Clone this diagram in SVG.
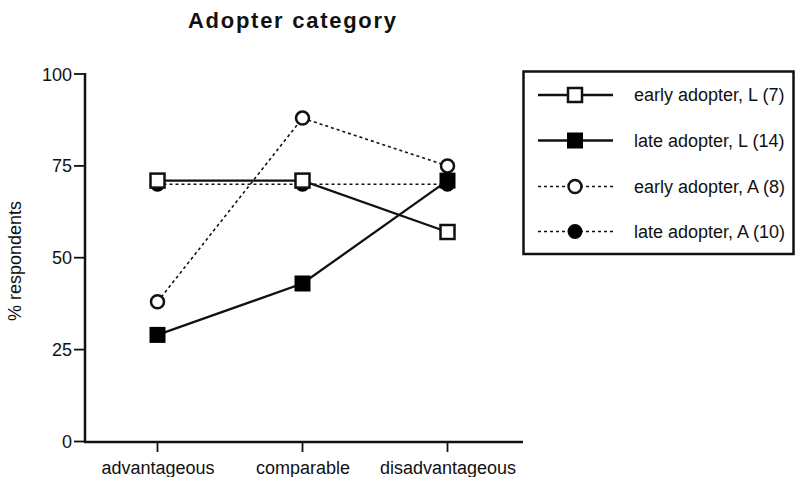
<svg xmlns="http://www.w3.org/2000/svg" width="798" height="477" viewBox="0 0 798 477">
<style>
text{font-family:"Liberation Sans",Arial,sans-serif;fill:#111}
.lab{font-size:18px}
.axis{stroke:#111;stroke-width:2.5;fill:none}
.tick{stroke:#111;stroke-width:1.8}
.solid{stroke:#111;stroke-width:2.3;fill:none}
.dot{stroke:#111;stroke-width:1.6;stroke-dasharray:3 3;fill:none}
.osq{fill:#fff;stroke:#111;stroke-width:2.5}
.fsq{fill:#000;stroke:#000;stroke-width:2}
.oci{fill:#fff;stroke:#111;stroke-width:2.5}
.fci{fill:#000;stroke:#000;stroke-width:2}
</style>
<defs>
<rect id="sq" x="-7" y="-7" width="14" height="14"/>
</defs>
<rect width="798" height="477" fill="#fff"/>
<text x="188" y="27.5" font-size="22" font-weight="bold" textLength="208" lengthAdjust="spacing">Adopter category</text>
<g id="axes">
<line class="axis" x1="85" y1="73" x2="85" y2="443"/>
<line class="axis" x1="84" y1="442" x2="523" y2="442"/>
<line class="tick" x1="74" y1="74" x2="85" y2="74"/>
<line class="tick" x1="74" y1="165.9" x2="85" y2="165.9"/>
<line class="tick" x1="74" y1="257.7" x2="85" y2="257.7"/>
<line class="tick" x1="74" y1="349.6" x2="85" y2="349.6"/>
<line class="tick" x1="74" y1="441.5" x2="85" y2="441.5"/>
<line class="tick" x1="157.5" y1="442" x2="157.5" y2="452"/>
<line class="tick" x1="302.5" y1="442" x2="302.5" y2="452"/>
<line class="tick" x1="447.5" y1="442" x2="447.5" y2="452"/>
<g text-anchor="end">
<text x="72" y="80.5" class="lab">100</text>
<text x="72" y="172.4" class="lab">75</text>
<text x="72" y="264.2" class="lab">50</text>
<text x="72" y="356.1" class="lab">25</text>
<text x="72" y="448" class="lab">0</text>
</g>
<text class="lab" text-anchor="middle" x="158" y="474">advantageous</text>
<text class="lab" text-anchor="middle" x="303" y="474">comparable</text>
<text class="lab" text-anchor="middle" x="448" y="474">disadvantageous</text>
<text class="lab" text-anchor="middle" transform="translate(21 261) rotate(-90)">% respondents</text>
</g>
<g id="connectors">
<polyline class="dot" points="157.5,184.3 302.5,184.3 447.5,184.3"/>
<polyline class="dot" points="157.5,301.8 302.5,118.1 447.5,165.9"/>
<polyline class="solid" points="157.5,180.6 302.5,180.6 447.5,232"/>
<polyline class="solid" points="157.5,334.9 302.5,283.5 447.5,180.6"/>
</g>
<g id="late-adopter-A">
<circle class="fci" cx="157.5" cy="184.3" r="6.5"/>
<circle class="fci" cx="302.5" cy="184.3" r="6.5"/>
<circle class="fci" cx="447.5" cy="184.3" r="6.5"/>
</g>
<g id="early-adopter-A">
<circle class="oci" cx="157.5" cy="301.8" r="6.5"/>
<circle class="oci" cx="302.5" cy="118.1" r="6.5"/>
<circle class="oci" cx="447.5" cy="165.9" r="6.5"/>
</g>
<g id="early-adopter-L">
<use href="#sq" class="osq" x="157.5" y="180.6"/>
<use href="#sq" class="osq" x="302.5" y="180.6"/>
<use href="#sq" class="osq" x="447.5" y="232"/>
</g>
<g id="late-adopter-L">
<use href="#sq" class="fsq" x="157.5" y="334.9"/>
<use href="#sq" class="fsq" x="302.5" y="283.5"/>
<use href="#sq" class="fsq" x="447.5" y="180.6"/>
</g>
<g id="legend">
<rect x="523.5" y="71.5" width="270" height="182.5" fill="#fff" stroke="#111" stroke-width="2.5"/>
<line class="solid" x1="538" y1="95" x2="613" y2="95"/>
<use href="#sq" class="osq" x="575" y="95"/>
<text class="lab" x="634" y="101">early adopter, L (7)</text>
<line class="solid" x1="538" y1="140.5" x2="613" y2="140.5"/>
<use href="#sq" class="fsq" x="575" y="140.5"/>
<text class="lab" x="634" y="146.5">late adopter, L (14)</text>
<line class="dot" x1="538" y1="186.5" x2="613" y2="186.5"/>
<circle class="oci" cx="575" cy="186.5" r="6.5"/>
<text class="lab" x="634" y="192.5">early adopter, A (8)</text>
<line class="dot" x1="538" y1="231.5" x2="613" y2="231.5"/>
<circle class="fci" cx="575" cy="231.5" r="6.5"/>
<text class="lab" x="634" y="237.5">late adopter, A (10)</text>
</g>
</svg>
